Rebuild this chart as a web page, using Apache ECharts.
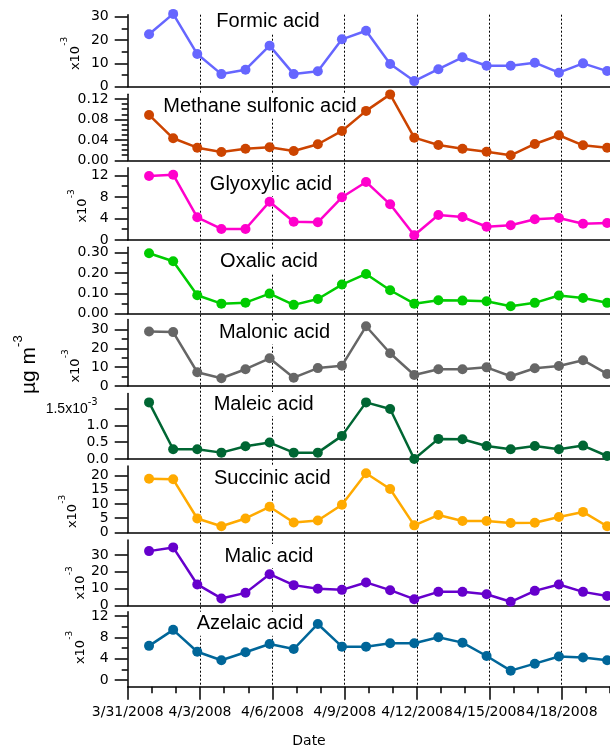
<!DOCTYPE html>
<html><head><meta charset="utf-8">
<script src="https://cdn.jsdelivr.net/npm/echarts@6.0.0/dist/echarts.min.js"></script>
<style>
html,body{margin:0;padding:0;overflow:hidden;background:#fff;}
#chart{width:640px;height:749px;}
</style></head><body><div id="chart"></div>
<script>
// ---------- data ----------
const sampleTimes = ['2008-03-31 21:15','2008-04-01 21:15','2008-04-02 21:15','2008-04-03 21:15','2008-04-04 21:15',
  '2008-04-05 21:15','2008-04-06 21:15','2008-04-07 21:15','2008-04-08 21:15','2008-04-09 21:15',
  '2008-04-10 21:15','2008-04-11 21:15','2008-04-12 21:15','2008-04-13 21:15','2008-04-14 21:15',
  '2008-04-15 21:15','2008-04-16 21:15','2008-04-17 21:15','2008-04-18 21:15','2008-04-19 21:15'];
const xTickLabels = ['3/31/2008','4/3/2008','4/6/2008','4/9/2008','4/12/2008','4/15/2008','4/18/2008'];

const formic          = [22.5, 31.2, 14.0, 5.4, 7.3, 17.6, 5.4, 6.6, 20.3, 24.0, 9.7, 2.4, 7.5, 12.6, 9.0, 9.0, 10.3, 6.0, 10.0, 6.7];
const methaneSulfonic = [0.0888, 0.0431, 0.0247, 0.0163, 0.0227, 0.0255, 0.0182, 0.0314, 0.0575, 0.0967, 0.1290, 0.0443, 0.0300, 0.0227, 0.0169, 0.0098, 0.0320, 0.0490, 0.0294, 0.0247];
const glyoxylic       = [11.9, 12.15, 4.22, 2.05, 2.05, 7.13, 3.4, 3.29, 7.94, 10.8, 6.64, 0.87, 4.65, 4.28, 2.47, 2.73, 3.85, 4.09, 3.03, 3.16];
const oxalic          = [0.2975, 0.258, 0.0906, 0.049, 0.054, 0.0985, 0.043, 0.072, 0.143, 0.1955, 0.115, 0.049, 0.066, 0.064, 0.061, 0.036, 0.053, 0.089, 0.077, 0.053];
const malonic         = [28.9, 28.6, 7.3, 4.1, 8.9, 14.7, 4.4, 9.5, 10.8, 31.7, 17.4, 5.85, 8.9, 8.9, 9.9, 5.2, 9.4, 10.6, 13.7, 6.4];
const maleic          = [1.69, 0.29, 0.29, 0.19, 0.38, 0.49, 0.19, 0.19, 0.69, 1.69, 1.49, 0.0, 0.60, 0.59, 0.39, 0.29, 0.39, 0.29, 0.40, 0.09];
const succinic        = [18.8, 18.6, 4.9, 2.2, 4.9, 9.0, 3.5, 4.2, 9.7, 20.7, 15.2, 2.5, 6.1, 4.0, 4.0, 3.3, 3.4, 5.4, 7.2, 2.2];
const malic           = [32.3, 34.5, 12.5, 4.2, 7.5, 18.6, 12.1, 9.9, 9.3, 13.7, 9.1, 3.75, 8.1, 8.1, 6.7, 2.2, 8.7, 12.5, 8.1, 5.7];
const azelaic         = [6.4, 9.4, 5.3, 3.7, 5.2, 6.75, 5.8, 10.5, 6.25, 6.25, 6.9, 6.9, 8.0, 7.0, 4.5, 1.75, 3.06, 4.4, 4.2, 3.7];

const panelNames = ['Formic acid','Methane sulfonic acid','Glyoxylic acid','Oxalic acid','Malonic acid',
  'Maleic acid','Succinic acid','Malic acid','Azelaic acid'];

// tick labels (major) and minor tick values per panel
const formicTicks = [0,10,20,30],            formicMinor = [5,15,25];
const msaTicks = [0,0.04,0.08,0.12],         msaMinor = [0.01,0.02,0.03,0.05,0.06,0.07,0.09,0.10,0.11];
const glyTicks = [0,4,8,12],                 glyMinor = [2,6,10];
const oxTicks = [0,0.1,0.2,0.3],             oxMinor = [0.05,0.15,0.25];
const malonicTicks = [0,10,20,30],           malonicMinor = [5,15,25];
const maleicTicks = [0,0.5,1.0,1.5],         maleicMinor = [];
const succTicks = [0,5,10,15,20],            succMinor = [];
const malicTicks = [0,10,20,30],             malicMinor = [];
const azeTicks = [0,4,8,12],                 azeMinor = [2,6,10];

// ---------- styles / layout ----------
const FONT_TICK = 'DejaVu Sans';
const FONT_TITLE = 'Liberation Sans';
const PLOT_LEFT = 127.7, DAY_PX = 24.11, X_MAX = 21;

const panels = [
  {name:panelNames[0], values:formic,          color:'#6666ff', ticks:formicTicks,  minors:formicMinor,  dec:0},
  {name:panelNames[1], values:methaneSulfonic, color:'#cc4400', ticks:msaTicks,     minors:msaMinor,     dec:2},
  {name:panelNames[2], values:glyoxylic,       color:'#ff00cc', ticks:glyTicks,     minors:glyMinor,     dec:0},
  {name:panelNames[3], values:oxalic,          color:'#00cc00', ticks:oxTicks,      minors:oxMinor,      dec:2},
  {name:panelNames[4], values:malonic,         color:'#666666', ticks:malonicTicks, minors:malonicMinor, dec:0},
  {name:panelNames[5], values:maleic,          color:'#006633', ticks:maleicTicks,  minors:maleicMinor,  dec:1, expLabel:1.5},
  {name:panelNames[6], values:succinic,        color:'#ffaa00', ticks:succTicks,    minors:succMinor,    dec:0},
  {name:panelNames[7], values:malic,           color:'#6600cc', ticks:malicTicks,   minors:malicMinor,   dec:0},
  {name:panelNames[8], values:azelaic,         color:'#006699', ticks:azeTicks,     minors:azeMinor,     dec:0}
];
const layout = [
  {top:14.7,  bottom:86.7,  max:30.86,  title:[268,21],    exp:[75.5,53.5]},
  {top:94.3,  bottom:160.3, max:0.1292, title:[260,106]},
  {top:167.7, bottom:240,   max:13.45,  title:[271,184],   exp:[82.5,206]},
  {top:247.3, bottom:313.6, max:0.3266, title:[269,261]},
  {top:319.5, bottom:386,   max:35.3,   title:[274.5,332.5], exp:[76,366]},
  {top:393.5, bottom:459,   max:1.955,  title:[263.7,404]},
  {top:466,   bottom:532.5, max:23.25,  title:[272.3,478], exp:[73,511.5]},
  {top:540,   bottom:605.5, max:38.9,   title:[269,556],   exp:[80.5,583]},
  {top:611.7, bottom:686.7, min:-1.257, max:12.8, title:[250,623.7], exp:[80.5,647.5]}
];

function dayOffset(s){
  const [d,t] = s.split(' ');
  const [Y,M,D] = d.split('-').map(Number);
  const [h,m] = t.split(':').map(Number);
  return (Date.UTC(Y,M-1,D,h,m) - Date.UTC(2008,2,31)) / 864e5;
}
const xDays = sampleTimes.map(dayOffset);

const blackLine = {color:'#000', width:1.5};
const grids=[], xAxes=[], yAxes=[], series=[], graphics=[];

layout.forEach((L,i)=>{
  const P = panels[i];
  const last = i === layout.length-1;
  const ymin = L.min || 0;
  grids.push({left:PLOT_LEFT, top:L.top, width:X_MAX*DAY_PX, height:L.bottom-L.top});
  xAxes.push({type:'value', gridIndex:i, min:0, max:X_MAX, interval:3,
    axisLine:{show:true, onZero:false, lineStyle:blackLine},
    axisTick:{show:last, length:13, lineStyle:blackLine},
    minorTick:{show:last, splitNumber:3, length:6.5, lineStyle:blackLine},
    axisLabel:{show:last, margin:19, fontFamily:FONT_TICK, fontSize:14, color:'#000',
      showMinLabel:true, showMaxLabel:true,
      formatter: v => xTickLabels[Math.round(v/3)] || ''},
    splitLine:{show:false}, minorSplitLine:{show:false}});
  const yMain = yAxes.length;
  yAxes.push({type:'value', gridIndex:i, position:'left', min:ymin, max:L.max,
    axisLine:{show:true, onZero:false, lineStyle:blackLine},
    axisTick:{show:true, length:13, customValues:P.ticks, lineStyle:blackLine},
    axisLabel:{show:true, customValues:P.ticks, margin:19, fontFamily:FONT_TICK, fontSize:14, color:'#000',
      showMinLabel:true, showMaxLabel:true, hideOverlap:false,
      formatter: v => {
        if (P.expLabel !== undefined && Math.abs(v-P.expLabel) < 1e-9) return '{n|' + v.toFixed(P.dec) + 'x10}{s|-3}';
        return v.toFixed(P.dec);
      },
      rich:{
        n:{fontFamily:'Liberation Sans', fontSize:14, color:'#000', lineHeight:23, verticalAlign:'middle'},
        s:{fontFamily:FONT_TICK, fontSize:10, color:'#000', verticalAlign:'top', padding:[0,11,0,0]}
      }},
    splitLine:{show:false}});
  yAxes.push({type:'value', gridIndex:i, position:'left', min:ymin, max:L.max,
    axisLine:{show:false},
    axisTick:{show:P.minors.length>0, length:6, customValues:P.minors.length?P.minors:[ymin], lineStyle:blackLine},
    axisLabel:{show:false}, splitLine:{show:false}});
  series.push({type:'line', name:P.name, xAxisIndex:i, yAxisIndex:yMain,
    data: xDays.map((x,k)=>[x, P.values[k]]),
    symbol:'circle', symbolSize:10, clip:false, z:3,
    lineStyle:{color:P.color, width:2.5}, itemStyle:{color:P.color}});
  graphics.push({type:'text', x:L.title[0], y:L.title[1], z:1,
    style:{text:P.name, fontFamily:FONT_TITLE, fontSize:20, fill:'#000', align:'center', verticalAlign:'middle',
      backgroundColor:'#fff', padding:[2,3]}});
  if (L.exp) {
    graphics.push({type:'text', x:L.exp[0], y:L.exp[1], rotation:Math.PI/2, z:1,
      style:{text:'{n|x10}{s|-3}', align:'center', verticalAlign:'middle', fill:'#000',
        rich:{
          n:{fontFamily:FONT_TICK, fontSize:13, fill:'#000', lineHeight:30, verticalAlign:'middle'},
          s:{fontFamily:FONT_TICK, fontSize:9, fill:'#000', verticalAlign:'top'}
        }}});
  }
});

// background grid carrying the dotted date lines that span all panels
const gi = layout.length;
grids.push({left:PLOT_LEFT, top:14.7, width:X_MAX*DAY_PX, height:686.7-14.7});
xAxes.push({type:'value', gridIndex:gi, min:0, max:X_MAX, interval:3, z:-1,
  axisLine:{show:false}, axisTick:{show:false}, axisLabel:{show:false},
  splitLine:{show:true, showMinLine:false, showMaxLine:false, lineStyle:{color:'#000', width:1, type:[2,2]}}});
yAxes.push({type:'value', gridIndex:gi, min:0, max:1, show:false});

// axis titles
graphics.push({type:'text', x:29.5, y:364.7, rotation:Math.PI/2, z:1,
  style:{text:'{n|µg m}{s|-3}', align:'center', verticalAlign:'middle', fill:'#000',
    rich:{
      n:{fontFamily:FONT_TITLE, fontSize:21, fill:'#000', lineHeight:36, verticalAlign:'middle'},
      s:{fontFamily:FONT_TITLE, fontSize:13, fill:'#000', verticalAlign:'top'}
    }}});
graphics.push({type:'text', x:309, y:741, z:1,
  style:{text:'Date', fontFamily:FONT_TICK, fontSize:14, fill:'#000', align:'center', verticalAlign:'middle'}});

const chart = echarts.init(document.getElementById('chart'), null, {renderer:'canvas'});
chart.setOption({
  animation:false,
  backgroundColor:'#fff',
  grid:grids, xAxis:xAxes, yAxis:yAxes, series:series,
  graphic:{elements:graphics}
});
</script></body></html>
